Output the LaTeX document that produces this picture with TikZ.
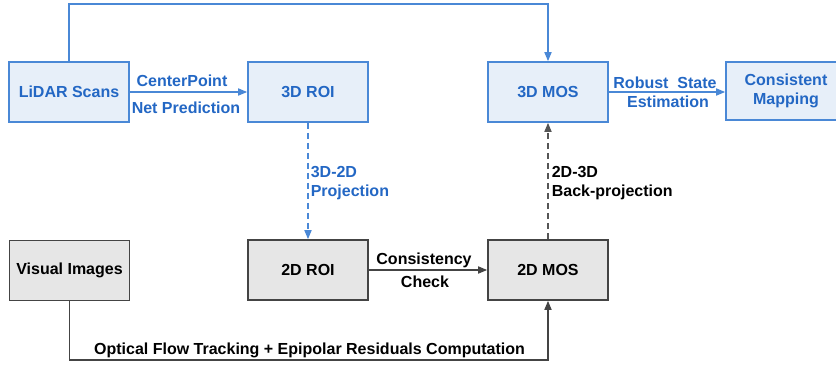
\documentclass[tikz,border=0pt]{standalone}
\usepackage{fontspec}
\setmainfont{Liberation Sans}
\usetikzlibrary{arrows.meta}
\definecolor{lblue}{HTML}{4A88D6}
\definecolor{bfill}{HTML}{E7EFF9}
\definecolor{btext}{HTML}{2367C4}
\definecolor{gline}{HTML}{444444}
\definecolor{gfill}{HTML}{E6E6E6}
\definecolor{gdash}{HTML}{555555}

\begin{document}
\begin{tikzpicture}[x=1pt, y=-1pt, line width=1.6pt,
  font=\bfseries\fontsize{16}{19}\selectfont,
  bbox/.style={draw=lblue, fill=bfill, text=btext, minimum width=120pt, minimum height=60pt, align=center},
  gbox/.style={draw=gline, fill=gfill, text=black, minimum width=120pt, minimum height=60pt, align=center},
  arr/.style={-{Triangle[length=9pt,width=7pt]}},
  lab/.style={anchor=base, inner sep=0pt}]
  \useasboundingbox (0,0) rectangle (836,365);
  \clip (0,0) rectangle (836,365);
  % boxes, top row 3D, bottom row 2D
  \node[bbox] (L) at (69,92) {LiDAR Scans};
  \node[bbox] (R3) at (308,92) {3D ROI};
  \node[bbox] (M3) at (548,92) {3D MOS};
  \node[bbox, minimum height=58pt] (CM) at (786,91) {Consistent\\Mapping};
  \node[gbox] (V) at (69.5,270.5) {Visual Images};
  \node[gbox] (R2) at (308,270) {2D ROI};
  \node[gbox] (M2) at (548,270) {2D MOS};
  \coordinate (T) at (0,4);
  \coordinate (B) at (0,360);
  % connectors
  \draw[lblue, arr] (L.north) -- (L.north |- T) -| (M3.north);
  \draw[lblue, arr] (L) -- (R3);
  \draw[lblue, arr] (M3.east) -- (M3.east -| CM.west);
  \draw[lblue, arr, dash pattern=on 6pt off 4pt] (R3) -- (R2);
  \draw[gdash, arr, dash pattern=on 6pt off 4pt] (M2) -- (M3);
  \draw[gline, arr] (R2) -- (M2);
  \draw[gline, arr] (V.south) -- (V.south |- B) -| (M2.south);
  % labels
  \node[lab, text=btext] (cp) at (182,86) {CenterPoint};
  \node[lab, text=btext] (np) at (186,113) {Net Prediction};
  \node[lab, text=btext] (rs) at (665,88) {Robust\ \ State};
  \node[lab, text=btext] (es) at (668,107) {Estimation};
  \node[inner sep=0pt, anchor=north west, align=left, text=btext] (pj) at (310,166) {3D-2D\\Projection};
  \node[inner sep=0pt, anchor=north west, align=left] (bp) at (551,166) {2D-3D\\Back-projection};
  \node[lab] (cc) at (424,264) {Consistency};
  \node[lab] (ck) at (425,287) {Check};
  \node[lab] (of) at (309.5,354) {Optical Flow Tracking + Epipolar Residuals Computation};
\end{tikzpicture}
\end{document}
